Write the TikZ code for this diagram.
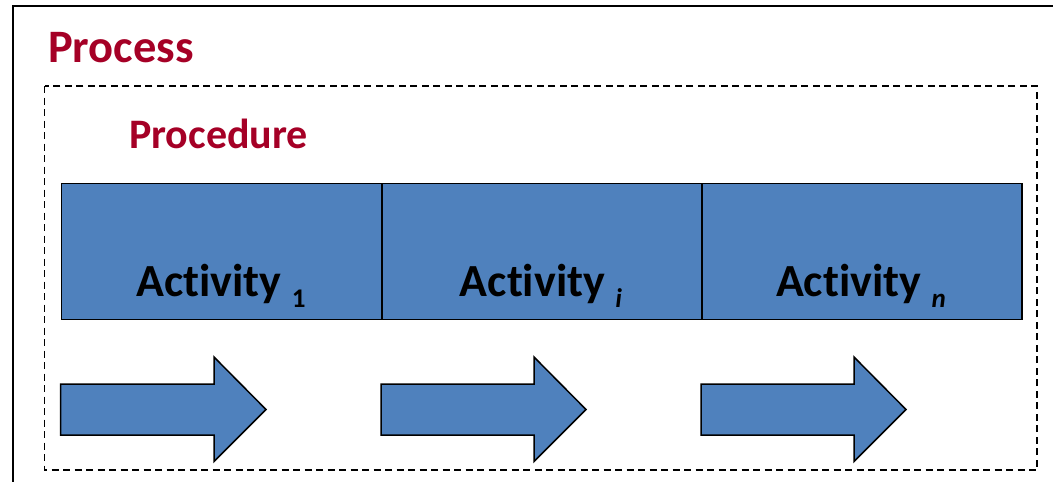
\documentclass[tikz,border=0pt]{standalone}
\usepackage{fontspec}
\setmainfont[Ligatures={NoCommon,NoContextual}]{Carlito}
\definecolor{procred}{RGB}{165,0,38}
\definecolor{actblue}{RGB}{79,129,189}
\newcommand{\actsub}[1]{\raisebox{-11pt}{\fontsize{27}{27}\selectfont #1}}
\begin{document}
\begin{tikzpicture}[x=1pt,y=-1pt,
  actbox/.style={draw=black,line width=1.7pt,fill=actblue,anchor=north west,minimum width=320pt,minimum height=136pt,inner sep=0pt},
  acttext/.style={font=\fontsize{46}{46}\selectfont\bfseries,anchor=base,inner sep=0pt},
  flowarrow/.style={draw=black,line width=1.5pt,fill=actblue,line join=miter},
  title/.style={text=procred,font=\bfseries,anchor=base west,inner sep=0pt}]
\useasboundingbox (0,0) rectangle (1053,482);
\clip (0,0) rectangle (1053,482);
\draw[line width=2pt] (12.5,6) rectangle (1070,500);
\node[title,font=\fontsize{46.5}{46.5}\selectfont\bfseries] (process) at (48,62.5) {Process};
\draw[dash pattern=on 7pt off 4.5pt,line width=1.3pt] (44.5,86) rectangle (1037,470);
\node[title,font=\fontsize{42}{42}\selectfont\bfseries] (procedure) at (129,148) {Procedure};
\node[actbox] (a1) at (60.5,182.5) {};
\node[actbox] (ai) at (381,182.5) {};
\node[actbox] (an) at (701,182.5) {};
\node[acttext] (t1) at (221,296) {Activity \actsub{1}};
\node[acttext] (ti) at (541,296) {Activity \actsub{\itshape i}};
\node[acttext] (tn) at (861,296) {Activity \actsub{\itshape n}};
\draw[flowarrow] (60.5,384) -- (214,384) -- (214,357) -- (266,409.5) -- (214,461.5) -- (214,435) -- (60.5,435) -- cycle;
\draw[flowarrow] (381,384) -- (534,384) -- (534,357) -- (586,409.5) -- (534,461.5) -- (534,435) -- (381,435) -- cycle;
\draw[flowarrow] (701,384) -- (854,384) -- (854,357) -- (906,409.5) -- (854,461.5) -- (854,435) -- (701,435) -- cycle;
\end{tikzpicture}
\end{document}
